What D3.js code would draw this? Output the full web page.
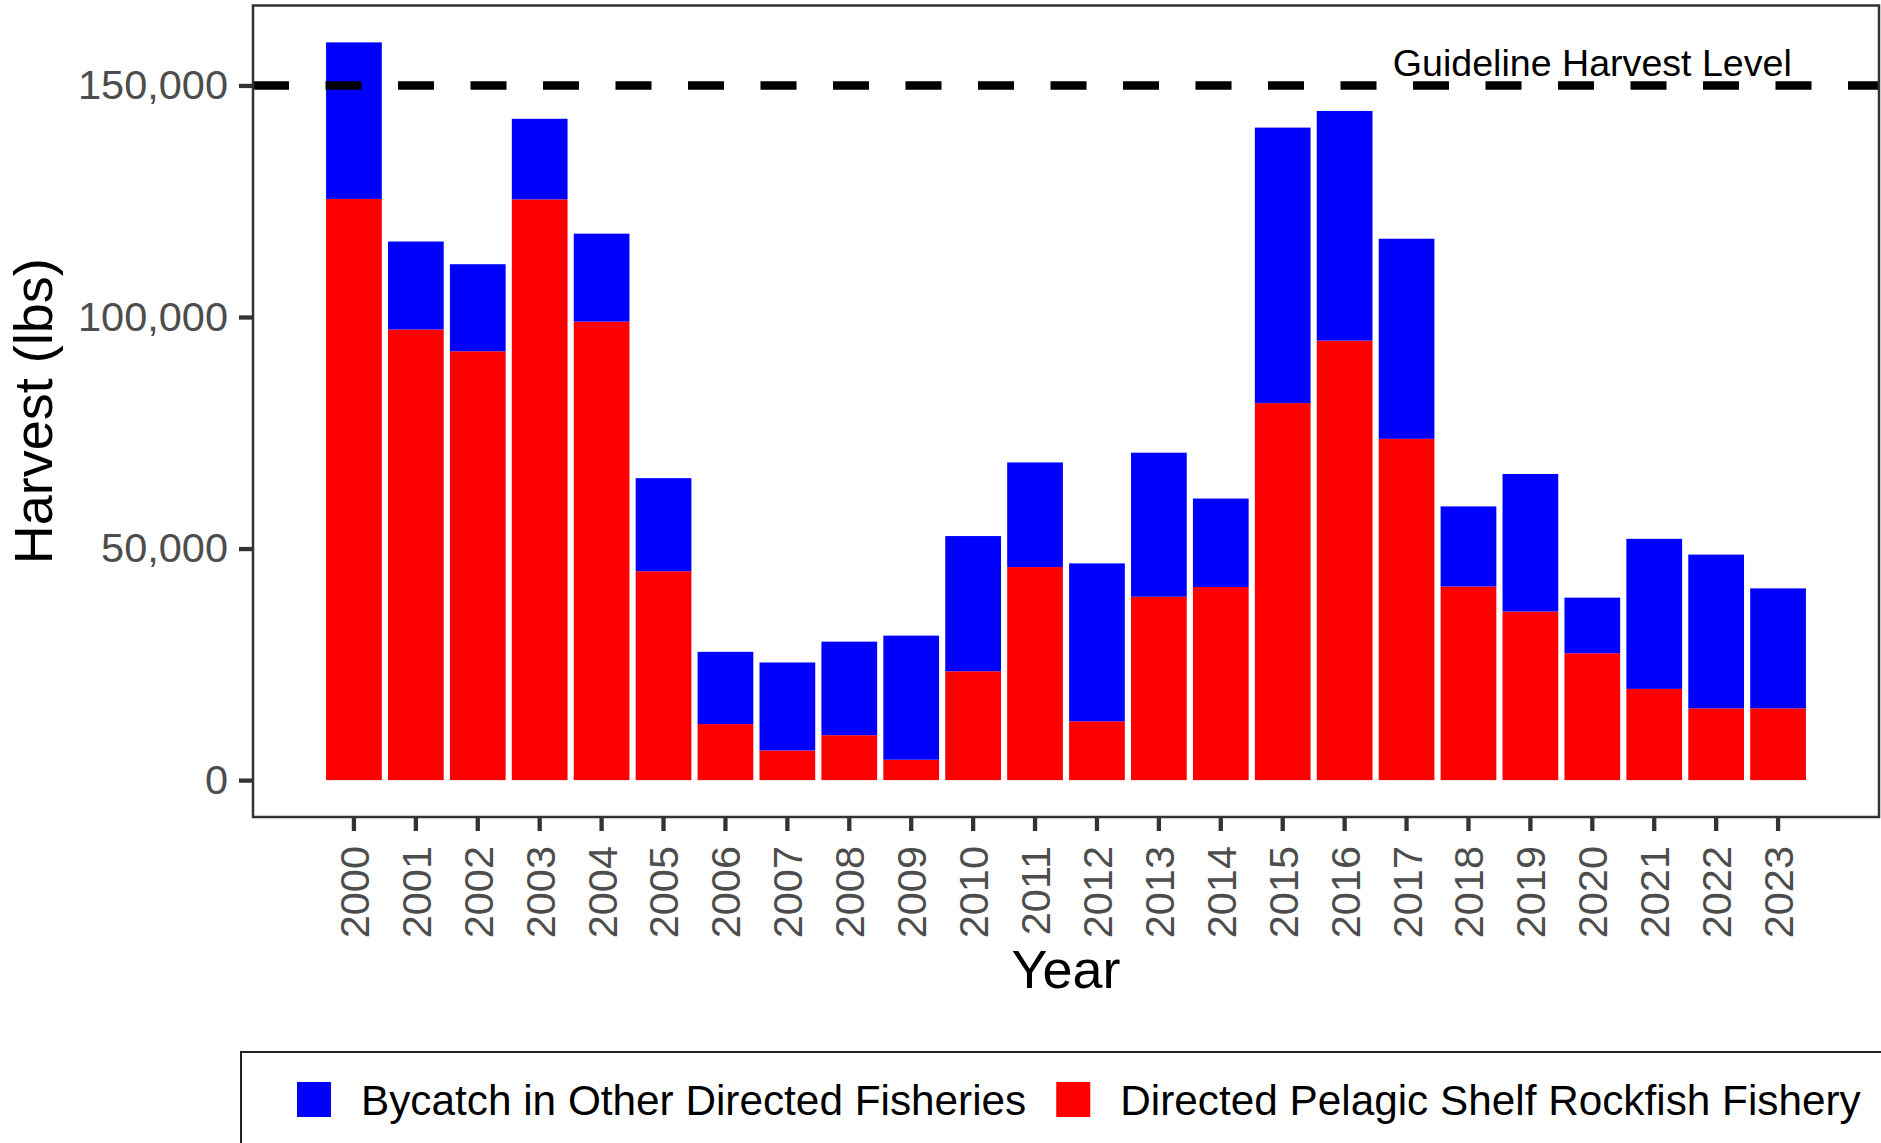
<!DOCTYPE html>
<html>
<head>
<meta charset="utf-8">
<script src="https://cdn.jsdelivr.net/npm/d3@7"></script>
<style>
  body { margin: 0; background: #fff; }
  text { font-family: "Liberation Sans", Arial, sans-serif; }
</style>
</head>
<body>
<script>
let years = ['2000', '2001', '2002', '2003', '2004', '2005', '2006', '2007', '2008', '2009', '2010', '2011',
  '2012', '2013', '2014', '2015', '2016', '2017', '2018', '2019', '2020', '2021', '2022', '2023']

// directed pelagic shelf rockfish fishery (lbs)
let directed = [125500, 97300, 92600, 125400, 99000, 45100, 12100, 6400, 9700, 4400, 23500, 46000,
  12700, 39600, 41700, 81400, 94900, 73700, 41800, 36400, 27400, 19700, 15500, 15500]

// bycatch in other directed fisheries (lbs)
let bycatch = [33800, 19000, 18800, 17400, 19000, 20100, 15600, 19000, 20200, 26800, 29200, 22600,
  34100, 31100, 19100, 59500, 49600, 43200, 17300, 29700, 12000, 32400, 33200, 25900]

let yTicks = [0, 50000, 100000, 150000]
let ghl = 150000
let ghlLabel = 'Guideline Harvest Level'
let ghlLabelYear = '2020'

let keys = ['directed', 'bycatch']
let legendKeys = ['bycatch', 'directed']
let labels = {
  bycatch: 'Bycatch in Other Directed Fisheries',
  directed: 'Directed Pelagic Shelf Rockfish Fishery'
}
let colors = { directed: '#FF0000', bycatch: '#0000FF' }

let width = 1881, height = 1143
let panel = { left: 253, right: 1879, top: 5.5, bottom: 817 }

let svg = d3.select('body').append('svg')
  .attr('width', width)
  .attr('height', height)

svg.append('rect').attr('width', width).attr('height', height).attr('fill', '#fff')

let rows = years.map((yr, i) => ({ year: yr, directed: directed[i], bycatch: bycatch[i] }))
let series = d3.stack().keys(keys)(rows)
let maxTotal = d3.max(rows, d => d.directed + d.bycatch)

let x = d3.scaleBand()
  .domain(years)
  .range([panel.left, panel.right])
  .paddingInner(0.1)
  .paddingOuter(1.18)

let y = d3.scaleLinear()
  .domain([-maxTotal * 0.05, maxTotal * 1.05])
  .range([panel.bottom, panel.top])

// bars
svg.append('g').selectAll('g').data(series).enter()
  .append('g')
    .attr('fill', d => colors[d.key])
  .selectAll('rect').data(d => d).enter()
  .append('rect')
    .attr('x', d => x(d.data.year))
    .attr('width', x.bandwidth())
    .attr('y', d => y(d[1]))
    .attr('height', d => y(d[0]) - y(d[1]))

// guideline harvest level
svg.append('line')
  .attr('x1', panel.left)
  .attr('x2', panel.right)
  .attr('y1', y(ghl))
  .attr('y2', y(ghl))
  .attr('stroke', '#000')
  .attr('stroke-width', 8.5)
  .attr('stroke-dasharray', '36,36.5')

svg.append('text')
  .attr('x', x(ghlLabelYear) + x.bandwidth() / 2)
  .attr('y', y(155000))
  .attr('dy', '0.36em')
  .attr('text-anchor', 'middle')
  .attr('font-size', 37.6)
  .attr('fill', '#000')
  .text(ghlLabel)

// panel border
svg.append('rect')
  .attr('x', panel.left)
  .attr('y', panel.top)
  .attr('width', panel.right - panel.left)
  .attr('height', panel.bottom - panel.top)
  .attr('fill', 'none')
  .attr('stroke', '#333')
  .attr('stroke-width', 2.5)

// axes
let yAxis = svg.append('g')
  .attr('transform', `translate(${panel.left},0)`)
  .call(d3.axisLeft(y).tickValues(yTicks).tickFormat(d3.format(',')).tickSize(14).tickPadding(11))

let xAxis = svg.append('g')
  .attr('transform', `translate(0,${panel.bottom})`)
  .call(d3.axisBottom(x).tickSize(14))

svg.selectAll('.domain').remove()
svg.selectAll('.tick line').attr('stroke', '#333').attr('stroke-width', 4.3)
svg.selectAll('.tick text')
  .attr('fill', '#4D4D4D')
  .attr('font-size', 41.5)
  .attr('font-family', '"Liberation Sans", Arial, sans-serif')

xAxis.selectAll('.tick text')
  .attr('transform', 'rotate(-90)')
  .attr('text-anchor', 'end')
  .attr('x', -29)
  .attr('y', 0)
  .attr('dy', '0.36em')

// axis titles
svg.append('text')
  .attr('transform', `translate(52,${(panel.top + panel.bottom) / 2}) rotate(-90)`)
  .attr('text-anchor', 'middle')
  .attr('font-size', 54)
  .attr('fill', '#000')
  .text('Harvest (lbs)')

svg.append('text')
  .attr('x', (panel.left + panel.right) / 2)
  .attr('y', 988)
  .attr('text-anchor', 'middle')
  .attr('font-size', 54)
  .attr('fill', '#000')
  .text('Year')

// legend
let legend = svg.append('g')

legend.append('rect')
  .attr('x', 241)
  .attr('y', 1052)
  .attr('width', 1800)
  .attr('height', 200)
  .attr('fill', '#fff')
  .attr('stroke', '#222')
  .attr('stroke-width', 2)

let lx = 297
legendKeys.forEach(k => {
  legend.append('rect')
    .attr('x', lx)
    .attr('y', 1082)
    .attr('width', 34)
    .attr('height', 35)
    .attr('fill', colors[k])
  let t = legend.append('text')
    .attr('x', lx + 64)
    .attr('y', 1115)
    .attr('font-size', 42.3)
    .attr('fill', '#000')
    .text(labels[k])
  lx += 64 + t.node().getComputedTextLength() + 30
})
</script>
</body>
</html>
